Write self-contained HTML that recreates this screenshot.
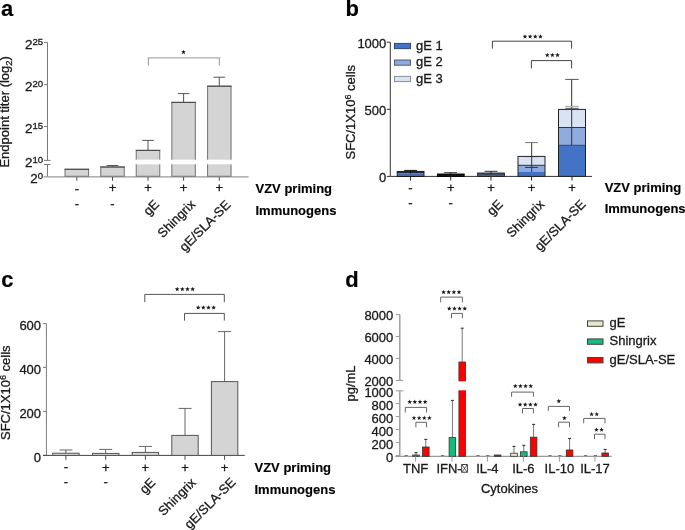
<!DOCTYPE html>
<html><head><meta charset="utf-8"><style>
html,body{margin:0;padding:0;background:#fff;}
body{width:685px;height:530px;overflow:hidden;}
svg{display:block;font-family:"Liberation Sans", sans-serif;-webkit-font-smoothing:antialiased;will-change:transform;}
text{stroke:#1a1a1a;stroke-width:0.3px;}
text[font-weight=bold]{stroke-width:0.15px;stroke:#000;}
</style></head><body>
<svg width="685" height="530" viewBox="0 0 685 530">
<rect width="685" height="530" fill="#fff"/>
<text x="1" y="16" font-size="22" text-anchor="start" font-weight="bold" fill="#000">a</text>
<line x1="47.5" y1="42.4" x2="47.5" y2="160.4" stroke="#7a7a7a" stroke-width="1"/>
<line x1="47.5" y1="164.5" x2="47.5" y2="176.8" stroke="#7a7a7a" stroke-width="1"/>
<line x1="44.0" y1="42.4" x2="47.5" y2="42.4" stroke="#7a7a7a" stroke-width="1"/>
<line x1="44.0" y1="84.7" x2="47.5" y2="84.7" stroke="#7a7a7a" stroke-width="1"/>
<line x1="44.0" y1="126.6" x2="47.5" y2="126.6" stroke="#7a7a7a" stroke-width="1"/>
<line x1="44.0" y1="160.4" x2="50.5" y2="160.4" stroke="#7a7a7a" stroke-width="1"/>
<line x1="44.0" y1="164.5" x2="50.5" y2="164.5" stroke="#7a7a7a" stroke-width="1"/>
<text x="43.1" y="48.6" font-size="13.5" text-anchor="end" fill="#1a1a1a">2<tspan font-size="9.6" dx="0" dy="-3.9">25</tspan></text>
<text x="43.1" y="90.9" font-size="13.5" text-anchor="end" fill="#1a1a1a">2<tspan font-size="9.6" dx="0" dy="-3.9">20</tspan></text>
<text x="43.1" y="132.79999999999998" font-size="13.5" text-anchor="end" fill="#1a1a1a">2<tspan font-size="9.6" dx="0" dy="-3.9">15</tspan></text>
<text x="43.1" y="166.6" font-size="13.5" text-anchor="end" fill="#1a1a1a">2<tspan font-size="9.6" dx="0" dy="-3.9">10</tspan></text>
<text x="43.1" y="183.0" font-size="13.5" text-anchor="end" fill="#1a1a1a">2<tspan font-size="9.6" dx="0" dy="-3.9">0</tspan></text>
<text transform="translate(9.2,111.8) rotate(-90)" font-size="13" text-anchor="middle" fill="#1a1a1a">Endpoint titer (log<tspan font-size="9.5" dy="3">2</tspan><tspan dy="-3">)</tspan></text>
<line x1="43.5" y1="176.8" x2="248.6" y2="176.8" stroke="#999" stroke-width="1.3"/>
<rect x="65.05" y="169.3" width="23.5" height="7.0" fill="#d4d4d4" stroke="#7c7c7c" stroke-width="1.1"/>
<line x1="64.55" y1="169.3" x2="89.05" y2="169.3" stroke="#4a4a4a" stroke-width="1.1"/>
<line x1="76.8" y1="177" x2="76.8" y2="180.8" stroke="#555" stroke-width="1"/>
<line x1="112.5" y1="165.5" x2="112.5" y2="167.0" stroke="#555" stroke-width="1"/>
<line x1="106.7" y1="165.5" x2="118.3" y2="165.5" stroke="#555" stroke-width="1"/>
<rect x="100.75" y="167.0" width="23.5" height="9.300000000000011" fill="#d4d4d4" stroke="#7c7c7c" stroke-width="1.1"/>
<line x1="100.25" y1="167.0" x2="124.75" y2="167.0" stroke="#4a4a4a" stroke-width="1.1"/>
<line x1="112.5" y1="177" x2="112.5" y2="180.8" stroke="#555" stroke-width="1"/>
<line x1="148" y1="140.4" x2="148" y2="150.4" stroke="#555" stroke-width="1"/>
<line x1="142.2" y1="140.4" x2="153.8" y2="140.4" stroke="#555" stroke-width="1"/>
<rect x="136.25" y="150.4" width="23.5" height="25.900000000000006" fill="#d4d4d4" stroke="#7c7c7c" stroke-width="1.1"/>
<line x1="135.75" y1="150.4" x2="160.25" y2="150.4" stroke="#4a4a4a" stroke-width="1.1"/>
<line x1="148" y1="177" x2="148" y2="180.8" stroke="#555" stroke-width="1"/>
<line x1="183.6" y1="93.6" x2="183.6" y2="102.4" stroke="#555" stroke-width="1"/>
<line x1="177.79999999999998" y1="93.6" x2="189.4" y2="93.6" stroke="#555" stroke-width="1"/>
<rect x="171.85" y="102.4" width="23.5" height="73.9" fill="#d4d4d4" stroke="#7c7c7c" stroke-width="1.1"/>
<line x1="171.35" y1="102.4" x2="195.85" y2="102.4" stroke="#4a4a4a" stroke-width="1.1"/>
<line x1="183.6" y1="177" x2="183.6" y2="180.8" stroke="#555" stroke-width="1"/>
<line x1="219.3" y1="77.2" x2="219.3" y2="86.2" stroke="#555" stroke-width="1"/>
<line x1="213.5" y1="77.2" x2="225.10000000000002" y2="77.2" stroke="#555" stroke-width="1"/>
<rect x="207.55" y="86.2" width="23.5" height="90.10000000000001" fill="#d4d4d4" stroke="#7c7c7c" stroke-width="1.1"/>
<line x1="207.05" y1="86.2" x2="231.55" y2="86.2" stroke="#4a4a4a" stroke-width="1.1"/>
<line x1="219.3" y1="177" x2="219.3" y2="180.8" stroke="#555" stroke-width="1"/>
<rect x="130" y="159.7" width="110" height="4.6" fill="#fff"/>
<polyline points="148.4,65.6 148.4,57.8 219.4,57.8 219.4,65.6" fill="none" stroke="#aaa" stroke-width="1.3"/>
<polygon points="183.50,49.75 184.12,51.35 185.83,51.44 184.50,52.52 184.94,54.18 183.50,53.25 182.06,54.18 182.50,52.52 181.17,51.44 182.88,51.35" fill="#1a1a1a"/>
<text x="76.8" y="193.1" font-size="13" text-anchor="middle" font-weight="normal" fill="#1a1a1a">-</text>
<text x="112.5" y="192.1" font-size="13" text-anchor="middle" font-weight="normal" fill="#1a1a1a">+</text>
<text x="148" y="192.1" font-size="13" text-anchor="middle" font-weight="normal" fill="#1a1a1a">+</text>
<text x="183.6" y="192.1" font-size="13" text-anchor="middle" font-weight="normal" fill="#1a1a1a">+</text>
<text x="219.3" y="192.1" font-size="13" text-anchor="middle" font-weight="normal" fill="#1a1a1a">+</text>
<text x="76.8" y="208.2" font-size="13" text-anchor="middle" font-weight="normal" fill="#1a1a1a">-</text>
<text x="112.5" y="208.2" font-size="13" text-anchor="middle" font-weight="normal" fill="#1a1a1a">-</text>
<text x="160.0" y="205.0" font-size="13" text-anchor="end" font-weight="normal" fill="#1a1a1a" transform="rotate(-45 160.0 205.0)">gE</text>
<text x="196.0" y="205.2" font-size="13" text-anchor="end" font-weight="normal" fill="#1a1a1a" transform="rotate(-45 196.0 205.2)">Shingrix</text>
<text x="231.3" y="205.7" font-size="13" text-anchor="end" font-weight="normal" fill="#1a1a1a" transform="rotate(-45 231.3 205.7)">gE/SLA-SE</text>
<text x="255.5" y="192.8" font-size="13" text-anchor="start" font-weight="bold" fill="#000">VZV priming</text>
<text x="255.5" y="214.8" font-size="13" text-anchor="start" font-weight="bold" fill="#000">Immunogens</text>
<text x="345.4" y="16.3" font-size="22" text-anchor="start" font-weight="bold" fill="#000">b</text>
<line x1="390.3" y1="42.2" x2="390.3" y2="176.4" stroke="#333" stroke-width="1"/>
<line x1="386.8" y1="42.2" x2="390.3" y2="42.2" stroke="#333" stroke-width="1"/>
<text x="386.3" y="48.0" font-size="13" text-anchor="end" font-weight="normal" fill="#1a1a1a">1000</text>
<line x1="386.8" y1="109.3" x2="390.3" y2="109.3" stroke="#333" stroke-width="1"/>
<text x="386.3" y="115.1" font-size="13" text-anchor="end" font-weight="normal" fill="#1a1a1a">500</text>
<line x1="386.8" y1="176.4" x2="390.3" y2="176.4" stroke="#333" stroke-width="1"/>
<text x="386.3" y="182.20000000000002" font-size="13" text-anchor="end" font-weight="normal" fill="#1a1a1a">0</text>
<text transform="translate(354.6,112.2) rotate(-90)" font-size="13" text-anchor="middle" fill="#1a1a1a">SFC/1X10<tspan font-size="9" dy="-4">6</tspan><tspan dy="4"> cells</tspan></text>
<line x1="390.3" y1="176.4" x2="592" y2="176.4" stroke="#333" stroke-width="1"/>
<line x1="410.5" y1="176.4" x2="410.5" y2="180.5" stroke="#333" stroke-width="1"/>
<line x1="450.7" y1="176.4" x2="450.7" y2="180.5" stroke="#333" stroke-width="1"/>
<line x1="491" y1="176.4" x2="491" y2="180.5" stroke="#333" stroke-width="1"/>
<line x1="531.5" y1="176.4" x2="531.5" y2="180.5" stroke="#333" stroke-width="1"/>
<rect x="518.0" y="156.4" width="27" height="8.900000000000006" fill="#dae3f3"/>
<rect x="518.0" y="165.3" width="27" height="6.399999999999977" fill="#8faadc"/>
<rect x="518.0" y="171.7" width="27" height="4.700000000000017" fill="#4472c4"/>
<line x1="518.0" y1="165.3" x2="545.0" y2="165.3" stroke="#222" stroke-width="0.9"/>
<rect x="518.0" y="156.4" width="27" height="20.0" fill="none" stroke="#222" stroke-width="1"/>
<line x1="572" y1="176.4" x2="572" y2="180.5" stroke="#333" stroke-width="1"/>
<rect x="558.5" y="109.4" width="27" height="18.099999999999994" fill="#dae3f3"/>
<rect x="558.5" y="127.5" width="27" height="17.80000000000001" fill="#8faadc"/>
<rect x="558.5" y="145.3" width="27" height="31.099999999999994" fill="#4472c4"/>
<line x1="558.5" y1="127.5" x2="585.5" y2="127.5" stroke="#222" stroke-width="0.9"/>
<line x1="558.5" y1="145.3" x2="585.5" y2="145.3" stroke="#222" stroke-width="0.7"/>
<rect x="558.5" y="109.4" width="27" height="67.0" fill="none" stroke="#222" stroke-width="1"/>
<rect x="397.2" y="171.4" width="26.8" height="2.0" fill="#1f2b45"/>
<rect x="397.2" y="173.4" width="26.8" height="1.6" fill="#4a68a8"/>
<rect x="397.2" y="175" width="26.8" height="1.4" fill="#4472c4"/>
<rect x="397.2" y="171.4" width="26.8" height="5" fill="none" stroke="#111" stroke-width="0.9"/>
<line x1="410.5" y1="170.4" x2="410.5" y2="173.4" stroke="#111" stroke-width="1"/>
<line x1="404.2" y1="170.4" x2="417" y2="170.4" stroke="#111" stroke-width="1"/>
<rect x="437.4" y="174" width="26.8" height="2.4" fill="#11151c" stroke="#000" stroke-width="0.9"/>
<line x1="444.2" y1="172.7" x2="457" y2="172.7" stroke="#333" stroke-width="1"/>
<line x1="450.7" y1="172.7" x2="450.7" y2="174" stroke="#222" stroke-width="1"/>
<rect x="477.6" y="173" width="26.8" height="3.4" fill="#4d5f87" stroke="#222" stroke-width="0.9"/>
<line x1="477.6" y1="174.2" x2="504.4" y2="174.2" stroke="#2a3550" stroke-width="0.7"/>
<line x1="484.5" y1="171.3" x2="497.5" y2="171.3" stroke="#333" stroke-width="1"/>
<line x1="491" y1="171.3" x2="491" y2="174" stroke="#222" stroke-width="1"/>
<line x1="531.7" y1="142.6" x2="531.7" y2="171.9" stroke="#333" stroke-width="1"/>
<line x1="525.1" y1="142.6" x2="537.9" y2="142.6" stroke="#777" stroke-width="1"/>
<line x1="525.1" y1="156.6" x2="537.9" y2="156.6" stroke="#333" stroke-width="1"/>
<line x1="525.1" y1="167.4" x2="537.9" y2="167.4" stroke="#333" stroke-width="1"/>
<line x1="571.7" y1="79.4" x2="571.7" y2="145.3" stroke="#333" stroke-width="1"/>
<line x1="565.2" y1="79.4" x2="578.6" y2="79.4" stroke="#555" stroke-width="1"/>
<line x1="565.3" y1="106.4" x2="578.7" y2="106.4" stroke="#b0b0b0" stroke-width="1.2"/>
<line x1="565.3" y1="108.3" x2="578.7" y2="108.3" stroke="#555" stroke-width="1"/>
<rect x="394.5" y="43.4" width="16" height="5.2" fill="#4472c4" stroke="#2d4a85" stroke-width="1"/>
<text x="416" y="49.7" font-size="13" text-anchor="start" font-weight="normal" fill="#1a1a1a">gE 1</text>
<rect x="394.5" y="60.0" width="16" height="5.2" fill="#8faadc" stroke="#4f5b75" stroke-width="1"/>
<text x="416" y="66.3" font-size="13" text-anchor="start" font-weight="normal" fill="#1a1a1a">gE 2</text>
<rect x="394.5" y="76.4" width="16" height="5.2" fill="#dae3f3" stroke="#8a8f99" stroke-width="1"/>
<text x="416" y="82.7" font-size="13" text-anchor="start" font-weight="normal" fill="#1a1a1a">gE 3</text>
<polyline points="492.4,48.6 492.4,41.2 571.6,41.2 571.6,48.6" fill="none" stroke="#444" stroke-width="1"/>
<polygon points="524.98,34.15 525.59,35.75 527.31,35.84 525.97,36.92 526.42,38.58 524.98,37.65 523.53,38.58 523.98,36.92 522.64,35.84 524.36,35.75" fill="#1a1a1a"/>
<polygon points="530.12,34.15 530.74,35.75 532.46,35.84 531.12,36.92 531.57,38.58 530.12,37.65 528.68,38.58 529.13,36.92 527.79,35.84 529.51,35.75" fill="#1a1a1a"/>
<polygon points="535.28,34.15 535.89,35.75 537.61,35.84 536.27,36.92 536.72,38.58 535.28,37.65 533.83,38.58 534.28,36.92 532.94,35.84 534.66,35.75" fill="#1a1a1a"/>
<polygon points="540.43,34.15 541.04,35.75 542.76,35.84 541.42,36.92 541.87,38.58 540.43,37.65 538.98,38.58 539.43,36.92 538.09,35.84 539.81,35.75" fill="#1a1a1a"/>
<polyline points="531.4,68.4 531.4,60.6 571.6,60.6 571.6,68.4" fill="none" stroke="#444" stroke-width="1"/>
<polygon points="547.25,52.65 547.87,54.25 549.58,54.34 548.25,55.42 548.69,57.08 547.25,56.15 545.81,57.08 546.25,55.42 544.92,54.34 546.63,54.25" fill="#1a1a1a"/>
<polygon points="552.40,52.65 553.02,54.25 554.73,54.34 553.40,55.42 553.84,57.08 552.40,56.15 550.96,57.08 551.40,55.42 550.07,54.34 551.78,54.25" fill="#1a1a1a"/>
<polygon points="557.55,52.65 558.17,54.25 559.88,54.34 558.55,55.42 558.99,57.08 557.55,56.15 556.11,57.08 556.55,55.42 555.22,54.34 556.93,54.25" fill="#1a1a1a"/>
<text x="410.5" y="191.8" font-size="13" text-anchor="middle" font-weight="normal" fill="#1a1a1a">-</text>
<text x="450.7" y="192.1" font-size="13" text-anchor="middle" font-weight="normal" fill="#1a1a1a">+</text>
<text x="491" y="192.1" font-size="13" text-anchor="middle" font-weight="normal" fill="#1a1a1a">+</text>
<text x="531.5" y="192.1" font-size="13" text-anchor="middle" font-weight="normal" fill="#1a1a1a">+</text>
<text x="572" y="192.1" font-size="13" text-anchor="middle" font-weight="normal" fill="#1a1a1a">+</text>
<text x="410.5" y="206.7" font-size="13" text-anchor="middle" font-weight="normal" fill="#1a1a1a">-</text>
<text x="450.7" y="206.7" font-size="13" text-anchor="middle" font-weight="normal" fill="#1a1a1a">-</text>
<text x="503.6" y="205.0" font-size="13" text-anchor="end" font-weight="normal" fill="#1a1a1a" transform="rotate(-45 503.6 205.0)">gE</text>
<text x="545.0" y="205.1" font-size="13" text-anchor="end" font-weight="normal" fill="#1a1a1a" transform="rotate(-45 545.0 205.1)">Shingrix</text>
<text x="586.4" y="205.1" font-size="13" text-anchor="end" font-weight="normal" fill="#1a1a1a" transform="rotate(-45 586.4 205.1)">gE/SLA-SE</text>
<text x="604.7" y="192.0" font-size="13" text-anchor="start" font-weight="bold" fill="#000">VZV priming</text>
<text x="604.7" y="213.3" font-size="13" text-anchor="start" font-weight="bold" fill="#000">Immunogens</text>
<text x="1.2" y="287.4" font-size="22" text-anchor="start" font-weight="bold" fill="#000">c</text>
<line x1="46.4" y1="323.6" x2="46.4" y2="455.4" stroke="#7a7a7a" stroke-width="1"/>
<line x1="42.9" y1="323.6" x2="46.4" y2="323.6" stroke="#7a7a7a" stroke-width="1"/>
<text x="41.1" y="330.20000000000005" font-size="13" text-anchor="end" font-weight="normal" fill="#1a1a1a">600</text>
<line x1="42.9" y1="367.4" x2="46.4" y2="367.4" stroke="#7a7a7a" stroke-width="1"/>
<text x="41.1" y="374.0" font-size="13" text-anchor="end" font-weight="normal" fill="#1a1a1a">400</text>
<line x1="42.9" y1="411.4" x2="46.4" y2="411.4" stroke="#7a7a7a" stroke-width="1"/>
<text x="41.1" y="418.0" font-size="13" text-anchor="end" font-weight="normal" fill="#1a1a1a">200</text>
<line x1="42.9" y1="455.4" x2="46.4" y2="455.4" stroke="#7a7a7a" stroke-width="1"/>
<text x="41.1" y="462.0" font-size="13" text-anchor="end" font-weight="normal" fill="#1a1a1a">0</text>
<text transform="translate(10.1,392.7) rotate(-90)" font-size="13" text-anchor="middle" fill="#1a1a1a">SFC/1X10<tspan font-size="9" dy="-4">6</tspan><tspan dy="4"> cells</tspan></text>
<line x1="43" y1="455.4" x2="244.8" y2="455.4" stroke="#444" stroke-width="1"/>
<line x1="65.9" y1="450" x2="65.9" y2="453.2" stroke="#666" stroke-width="1"/>
<line x1="59.400000000000006" y1="450" x2="72.4" y2="450" stroke="#666" stroke-width="1"/>
<rect x="52.7" y="453.2" width="26.4" height="2.1999999999999886" fill="#d4d4d4" stroke="#555" stroke-width="1"/>
<line x1="65.9" y1="455.4" x2="65.9" y2="459.8" stroke="#4a4a4a" stroke-width="1"/>
<line x1="105.7" y1="449.4" x2="105.7" y2="453.4" stroke="#666" stroke-width="1"/>
<line x1="99.2" y1="449.4" x2="112.2" y2="449.4" stroke="#666" stroke-width="1"/>
<rect x="92.5" y="453.4" width="26.4" height="2.0" fill="#d4d4d4" stroke="#555" stroke-width="1"/>
<line x1="105.7" y1="455.4" x2="105.7" y2="459.8" stroke="#4a4a4a" stroke-width="1"/>
<line x1="145.4" y1="446.4" x2="145.4" y2="452.4" stroke="#666" stroke-width="1"/>
<line x1="138.9" y1="446.4" x2="151.9" y2="446.4" stroke="#666" stroke-width="1"/>
<rect x="132.20000000000002" y="452.4" width="26.4" height="3.0" fill="#d4d4d4" stroke="#555" stroke-width="1"/>
<line x1="145.4" y1="455.4" x2="145.4" y2="459.8" stroke="#4a4a4a" stroke-width="1"/>
<line x1="185" y1="408.4" x2="185" y2="435.4" stroke="#666" stroke-width="1"/>
<line x1="178.5" y1="408.4" x2="191.5" y2="408.4" stroke="#666" stroke-width="1"/>
<rect x="171.8" y="435.4" width="26.4" height="20.0" fill="#d4d4d4" stroke="#555" stroke-width="1"/>
<line x1="185" y1="455.4" x2="185" y2="459.8" stroke="#4a4a4a" stroke-width="1"/>
<line x1="224.6" y1="331.6" x2="224.6" y2="381.6" stroke="#666" stroke-width="1"/>
<line x1="218.1" y1="331.6" x2="231.1" y2="331.6" stroke="#666" stroke-width="1"/>
<rect x="211.4" y="381.6" width="26.4" height="73.79999999999995" fill="#d4d4d4" stroke="#555" stroke-width="1"/>
<line x1="224.6" y1="455.4" x2="224.6" y2="459.8" stroke="#4a4a4a" stroke-width="1"/>
<polyline points="144.8,302.2 144.8,294.4 224.3,294.4 224.3,302.2" fill="none" stroke="#555" stroke-width="1"/>
<polygon points="177.18,286.75 177.79,288.35 179.51,288.44 178.17,289.52 178.62,291.18 177.18,290.25 175.73,291.18 176.18,289.52 174.84,288.44 176.56,288.35" fill="#1a1a1a"/>
<polygon points="182.33,286.75 182.94,288.35 184.66,288.44 183.32,289.52 183.77,291.18 182.33,290.25 180.88,291.18 181.33,289.52 179.99,288.44 181.71,288.35" fill="#1a1a1a"/>
<polygon points="187.47,286.75 188.09,288.35 189.81,288.44 188.47,289.52 188.92,291.18 187.47,290.25 186.03,291.18 186.48,289.52 185.14,288.44 186.86,288.35" fill="#1a1a1a"/>
<polygon points="192.62,286.75 193.24,288.35 194.96,288.44 193.62,289.52 194.07,291.18 192.62,290.25 191.18,291.18 191.63,289.52 190.29,288.44 192.01,288.35" fill="#1a1a1a"/>
<polyline points="184.5,320.6 184.5,313.4 224.3,313.4 224.3,320.6" fill="none" stroke="#555" stroke-width="1"/>
<polygon points="198.18,305.15 198.79,306.75 200.51,306.84 199.17,307.92 199.62,309.58 198.18,308.65 196.73,309.58 197.18,307.92 195.84,306.84 197.56,306.75" fill="#1a1a1a"/>
<polygon points="203.33,305.15 203.94,306.75 205.66,306.84 204.32,307.92 204.77,309.58 203.33,308.65 201.88,309.58 202.33,307.92 200.99,306.84 202.71,306.75" fill="#1a1a1a"/>
<polygon points="208.47,305.15 209.09,306.75 210.81,306.84 209.47,307.92 209.92,309.58 208.47,308.65 207.03,309.58 207.48,307.92 206.14,306.84 207.86,306.75" fill="#1a1a1a"/>
<polygon points="213.62,305.15 214.24,306.75 215.96,306.84 214.62,307.92 215.07,309.58 213.62,308.65 212.18,309.58 212.63,307.92 211.29,306.84 213.01,306.75" fill="#1a1a1a"/>
<text x="65.9" y="471.0" font-size="13" text-anchor="middle" font-weight="normal" fill="#1a1a1a">-</text>
<text x="105.7" y="472.0" font-size="13" text-anchor="middle" font-weight="normal" fill="#1a1a1a">+</text>
<text x="145.4" y="472.0" font-size="13" text-anchor="middle" font-weight="normal" fill="#1a1a1a">+</text>
<text x="185" y="472.0" font-size="13" text-anchor="middle" font-weight="normal" fill="#1a1a1a">+</text>
<text x="224.6" y="472.0" font-size="13" text-anchor="middle" font-weight="normal" fill="#1a1a1a">+</text>
<text x="65.9" y="486.1" font-size="13" text-anchor="middle" font-weight="normal" fill="#1a1a1a">-</text>
<text x="105.7" y="486.1" font-size="13" text-anchor="middle" font-weight="normal" fill="#1a1a1a">-</text>
<text x="156.20000000000002" y="483.3" font-size="13" text-anchor="end" font-weight="normal" fill="#1a1a1a" transform="rotate(-45 156.20000000000002 483.3)">gE</text>
<text x="196.7" y="483.3" font-size="13" text-anchor="end" font-weight="normal" fill="#1a1a1a" transform="rotate(-45 196.7 483.3)">Shingrix</text>
<text x="236.29999999999998" y="483.1" font-size="13" text-anchor="end" font-weight="normal" fill="#1a1a1a" transform="rotate(-45 236.29999999999998 483.1)">gE/SLA-SE</text>
<text x="254.5" y="471.5" font-size="13" text-anchor="start" font-weight="bold" fill="#000">VZV priming</text>
<text x="254.5" y="493.5" font-size="13" text-anchor="start" font-weight="bold" fill="#000">Immunogens</text>
<text x="345.3" y="287" font-size="22" text-anchor="start" font-weight="bold" fill="#000">d</text>
<line x1="399.8" y1="314.4" x2="399.8" y2="380.4" stroke="#9a9a9a" stroke-width="1.4"/>
<line x1="399.8" y1="390.8" x2="399.8" y2="456.3" stroke="#9a9a9a" stroke-width="1.4"/>
<line x1="395.8" y1="314.4" x2="399.8" y2="314.4" stroke="#9a9a9a" stroke-width="1"/>
<text x="393.3" y="320.2" font-size="13" text-anchor="end" font-weight="normal" fill="#1a1a1a">8000</text>
<line x1="395.8" y1="336.6" x2="399.8" y2="336.6" stroke="#9a9a9a" stroke-width="1"/>
<text x="393.3" y="342.40000000000003" font-size="13" text-anchor="end" font-weight="normal" fill="#1a1a1a">6000</text>
<line x1="395.8" y1="358.4" x2="399.8" y2="358.4" stroke="#9a9a9a" stroke-width="1"/>
<text x="393.3" y="364.2" font-size="13" text-anchor="end" font-weight="normal" fill="#1a1a1a">4000</text>
<line x1="395.8" y1="380.4" x2="399.8" y2="380.4" stroke="#9a9a9a" stroke-width="1"/>
<text x="393.3" y="386.2" font-size="13" text-anchor="end" font-weight="normal" fill="#1a1a1a">2000</text>
<line x1="399.8" y1="380.4" x2="403.5" y2="380.4" stroke="#9a9a9a" stroke-width="1"/>
<line x1="399.8" y1="390.8" x2="403.5" y2="390.8" stroke="#9a9a9a" stroke-width="1"/>
<line x1="395.8" y1="390.8" x2="399.8" y2="390.8" stroke="#9a9a9a" stroke-width="1"/>
<text x="393.3" y="396.90000000000003" font-size="13" text-anchor="end" font-weight="normal" fill="#1a1a1a">1000</text>
<line x1="395.8" y1="403.6" x2="399.8" y2="403.6" stroke="#9a9a9a" stroke-width="1"/>
<text x="393.3" y="409.70000000000005" font-size="13" text-anchor="end" font-weight="normal" fill="#1a1a1a">800</text>
<line x1="395.8" y1="416.6" x2="399.8" y2="416.6" stroke="#9a9a9a" stroke-width="1"/>
<text x="393.3" y="422.70000000000005" font-size="13" text-anchor="end" font-weight="normal" fill="#1a1a1a">600</text>
<line x1="395.8" y1="429.6" x2="399.8" y2="429.6" stroke="#9a9a9a" stroke-width="1"/>
<text x="393.3" y="435.70000000000005" font-size="13" text-anchor="end" font-weight="normal" fill="#1a1a1a">400</text>
<line x1="395.8" y1="442.6" x2="399.8" y2="442.6" stroke="#9a9a9a" stroke-width="1"/>
<text x="393.3" y="448.70000000000005" font-size="13" text-anchor="end" font-weight="normal" fill="#1a1a1a">200</text>
<line x1="395.8" y1="455.6" x2="399.8" y2="455.6" stroke="#9a9a9a" stroke-width="1"/>
<text x="393.3" y="461.70000000000005" font-size="13" text-anchor="end" font-weight="normal" fill="#1a1a1a">0</text>
<text transform="translate(355,383.5) rotate(-90)" font-size="13" text-anchor="middle" fill="#1a1a1a">pg/mL</text>
<line x1="395.3" y1="456.3" x2="611.6" y2="456.3" stroke="#9a9a9a" stroke-width="1.3"/>
<line x1="404.6" y1="455.5" x2="407.80000000000007" y2="455.5" stroke="#777" stroke-width="1"/>
<line x1="416.0" y1="452.6" x2="416.0" y2="455" stroke="#777" stroke-width="1"/>
<line x1="414.5" y1="452.6" x2="417.5" y2="452.6" stroke="#333" stroke-width="1.1"/>
<rect x="412.7" y="455" width="6.6" height="1.3000000000000114" fill="#19b97b" stroke="#333" stroke-width="0.8"/>
<line x1="425.8" y1="439.4" x2="425.8" y2="447" stroke="#777" stroke-width="1"/>
<line x1="424.3" y1="439.4" x2="427.3" y2="439.4" stroke="#333" stroke-width="1.1"/>
<rect x="422.5" y="447" width="6.6" height="9.300000000000011" fill="#ff0000" stroke="#333" stroke-width="0.8"/>
<line x1="415.6" y1="456.3" x2="415.6" y2="461.6" stroke="#9a9a9a" stroke-width="1"/>
<line x1="441.0" y1="455.5" x2="444.20000000000005" y2="455.5" stroke="#777" stroke-width="1"/>
<line x1="452.4" y1="400.4" x2="452.4" y2="437.6" stroke="#777" stroke-width="1"/>
<line x1="450.9" y1="400.4" x2="453.9" y2="400.4" stroke="#333" stroke-width="1.1"/>
<rect x="449.09999999999997" y="437.6" width="6.6" height="18.69999999999999" fill="#19b97b" stroke="#333" stroke-width="0.8"/>
<line x1="462.2" y1="328.2" x2="462.2" y2="362" stroke="#777" stroke-width="1"/>
<line x1="460.7" y1="328.2" x2="463.7" y2="328.2" stroke="#333" stroke-width="1.1"/>
<rect x="458.9" y="362" width="6.6" height="94.30000000000001" fill="#ff0000" stroke="#333" stroke-width="0.8"/>
<line x1="452" y1="456.3" x2="452" y2="461.6" stroke="#9a9a9a" stroke-width="1"/>
<line x1="476.4" y1="455.5" x2="479.6" y2="455.5" stroke="#777" stroke-width="1"/>
<line x1="486.19999999999993" y1="455.5" x2="489.4" y2="455.5" stroke="#777" stroke-width="1"/>
<rect x="494.29999999999995" y="455" width="6.6" height="1.3000000000000114" fill="#ff0000" stroke="#333" stroke-width="0.8"/>
<line x1="487.4" y1="456.3" x2="487.4" y2="461.6" stroke="#9a9a9a" stroke-width="1"/>
<line x1="514.0" y1="446.4" x2="514.0" y2="453.2" stroke="#777" stroke-width="1"/>
<line x1="512.5" y1="446.4" x2="515.5" y2="446.4" stroke="#333" stroke-width="1.1"/>
<rect x="510.7" y="453.2" width="6.6" height="3.1000000000000227" fill="#ece6c8" stroke="#333" stroke-width="0.8"/>
<line x1="523.8" y1="445.4" x2="523.8" y2="451.8" stroke="#777" stroke-width="1"/>
<line x1="522.3" y1="445.4" x2="525.3" y2="445.4" stroke="#333" stroke-width="1.1"/>
<rect x="520.5" y="451.8" width="6.6" height="4.5" fill="#19b97b" stroke="#333" stroke-width="0.8"/>
<line x1="533.6" y1="424.4" x2="533.6" y2="437.2" stroke="#777" stroke-width="1"/>
<line x1="532.1" y1="424.4" x2="535.1" y2="424.4" stroke="#333" stroke-width="1.1"/>
<rect x="530.3000000000001" y="437.2" width="6.6" height="19.100000000000023" fill="#ff0000" stroke="#333" stroke-width="0.8"/>
<line x1="523.4" y1="456.3" x2="523.4" y2="461.6" stroke="#9a9a9a" stroke-width="1"/>
<line x1="548.4" y1="455.5" x2="551.6" y2="455.5" stroke="#777" stroke-width="1"/>
<line x1="558.1999999999999" y1="455.5" x2="561.4" y2="455.5" stroke="#777" stroke-width="1"/>
<line x1="569.6" y1="438.5" x2="569.6" y2="450" stroke="#777" stroke-width="1"/>
<line x1="568.1" y1="438.5" x2="571.1" y2="438.5" stroke="#333" stroke-width="1.1"/>
<rect x="566.3000000000001" y="450" width="6.6" height="6.300000000000011" fill="#ff0000" stroke="#333" stroke-width="0.8"/>
<line x1="559.4" y1="456.3" x2="559.4" y2="461.6" stroke="#9a9a9a" stroke-width="1"/>
<line x1="584.0" y1="455.5" x2="587.2" y2="455.5" stroke="#777" stroke-width="1"/>
<line x1="593.8" y1="455.5" x2="597.0" y2="455.5" stroke="#777" stroke-width="1"/>
<line x1="605.2" y1="449.4" x2="605.2" y2="453" stroke="#777" stroke-width="1"/>
<line x1="603.7" y1="449.4" x2="606.7" y2="449.4" stroke="#333" stroke-width="1.1"/>
<rect x="601.9000000000001" y="453" width="6.6" height="3.3000000000000114" fill="#ff0000" stroke="#333" stroke-width="0.8"/>
<line x1="595" y1="456.3" x2="595" y2="461.6" stroke="#9a9a9a" stroke-width="1"/>
<rect x="457" y="381.3" width="10" height="9.0" fill="#fff"/>
<text x="415.6" y="473.4" font-size="13" text-anchor="middle" font-weight="normal" fill="#1a1a1a">TNF</text>
<text x="436.4" y="473.4" font-size="13" text-anchor="start" font-weight="normal" fill="#1a1a1a">IFN-</text>
<text x="487.4" y="473.4" font-size="13" text-anchor="middle" font-weight="normal" fill="#1a1a1a">IL-4</text>
<text x="523.4" y="473.4" font-size="13" text-anchor="middle" font-weight="normal" fill="#1a1a1a">IL-6</text>
<text x="559.4" y="473.4" font-size="13" text-anchor="middle" font-weight="normal" fill="#1a1a1a">IL-10</text>
<text x="595" y="473.4" font-size="13" text-anchor="middle" font-weight="normal" fill="#1a1a1a">IL-17</text>
<rect x="461.7" y="464.6" width="5.6" height="7.6" fill="none" stroke="#222" stroke-width="0.9"/>
<path d="M462 465 L467 472 M467 465 L462 472" stroke="#222" stroke-width="0.7"/>
<text x="509.5" y="492.5" font-size="13" text-anchor="middle" font-weight="normal" fill="#1a1a1a">Cytokines</text>
<polyline points="405.3,412.5 405.3,407.4 426.6,407.4 426.6,412.5" fill="none" stroke="#666" stroke-width="1"/>
<polygon points="409.67,399.45 410.29,401.05 412.01,401.14 410.67,402.22 411.12,403.88 409.67,402.95 408.23,403.88 408.68,402.22 407.34,401.14 409.06,401.05" fill="#1a1a1a"/>
<polygon points="414.82,399.45 415.44,401.05 417.16,401.14 415.82,402.22 416.27,403.88 414.82,402.95 413.38,403.88 413.83,402.22 412.49,401.14 414.21,401.05" fill="#1a1a1a"/>
<polygon points="419.97,399.45 420.59,401.05 422.31,401.14 420.97,402.22 421.42,403.88 419.97,402.95 418.53,403.88 418.98,402.22 417.64,401.14 419.36,401.05" fill="#1a1a1a"/>
<polygon points="425.12,399.45 425.74,401.05 427.46,401.14 426.12,402.22 426.57,403.88 425.12,402.95 423.68,403.88 424.13,402.22 422.79,401.14 424.51,401.05" fill="#1a1a1a"/>
<polyline points="415.9,427.4 415.9,422.3 426.6,422.3 426.6,427.4" fill="none" stroke="#666" stroke-width="1"/>
<polygon points="413.97,415.55 414.59,417.15 416.31,417.24 414.97,418.32 415.42,419.98 413.97,419.05 412.53,419.98 412.98,418.32 411.64,417.24 413.36,417.15" fill="#1a1a1a"/>
<polygon points="419.12,415.55 419.74,417.15 421.46,417.24 420.12,418.32 420.57,419.98 419.12,419.05 417.68,419.98 418.13,418.32 416.79,417.24 418.51,417.15" fill="#1a1a1a"/>
<polygon points="424.27,415.55 424.89,417.15 426.61,417.24 425.27,418.32 425.72,419.98 424.27,419.05 422.83,419.98 423.28,418.32 421.94,417.24 423.66,417.15" fill="#1a1a1a"/>
<polygon points="429.43,415.55 430.04,417.15 431.76,417.24 430.42,418.32 430.87,419.98 429.43,419.05 427.98,419.98 428.43,418.32 427.09,417.24 428.81,417.15" fill="#1a1a1a"/>
<polyline points="440.7,302.3 440.7,297.1 462.4,297.1 462.4,302.3" fill="none" stroke="#666" stroke-width="1"/>
<polygon points="443.57,289.75 444.19,291.35 445.91,291.44 444.57,292.52 445.02,294.18 443.57,293.25 442.13,294.18 442.58,292.52 441.24,291.44 442.96,291.35" fill="#1a1a1a"/>
<polygon points="448.73,289.75 449.34,291.35 451.06,291.44 449.72,292.52 450.17,294.18 448.73,293.25 447.28,294.18 447.73,292.52 446.39,291.44 448.11,291.35" fill="#1a1a1a"/>
<polygon points="453.88,289.75 454.49,291.35 456.21,291.44 454.87,292.52 455.32,294.18 453.88,293.25 452.43,294.18 452.88,292.52 451.54,291.44 453.26,291.35" fill="#1a1a1a"/>
<polygon points="459.03,289.75 459.64,291.35 461.36,291.44 460.02,292.52 460.47,294.18 459.03,293.25 457.58,294.18 458.03,292.52 456.69,291.44 458.41,291.35" fill="#1a1a1a"/>
<polyline points="451.5,318.3 451.5,313.4 462.4,313.4 462.4,318.3" fill="none" stroke="#666" stroke-width="1"/>
<polygon points="449.27,306.15 449.89,307.75 451.61,307.84 450.27,308.92 450.72,310.58 449.27,309.65 447.83,310.58 448.28,308.92 446.94,307.84 448.66,307.75" fill="#1a1a1a"/>
<polygon points="454.43,306.15 455.04,307.75 456.76,307.84 455.42,308.92 455.87,310.58 454.43,309.65 452.98,310.58 453.43,308.92 452.09,307.84 453.81,307.75" fill="#1a1a1a"/>
<polygon points="459.57,306.15 460.19,307.75 461.91,307.84 460.57,308.92 461.02,310.58 459.57,309.65 458.13,310.58 458.58,308.92 457.24,307.84 458.96,307.75" fill="#1a1a1a"/>
<polygon points="464.73,306.15 465.34,307.75 467.06,307.84 465.72,308.92 466.17,310.58 464.73,309.65 463.28,310.58 463.73,308.92 462.39,307.84 464.11,307.75" fill="#1a1a1a"/>
<polyline points="511.6,396.8 511.6,392.1 533.4,392.1 533.4,396.8" fill="none" stroke="#666" stroke-width="1"/>
<polygon points="515.27,383.65 515.89,385.25 517.61,385.34 516.27,386.42 516.72,388.08 515.27,387.15 513.83,388.08 514.28,386.42 512.94,385.34 514.66,385.25" fill="#1a1a1a"/>
<polygon points="520.42,383.65 521.04,385.25 522.76,385.34 521.42,386.42 521.87,388.08 520.42,387.15 518.98,388.08 519.43,386.42 518.09,385.34 519.81,385.25" fill="#1a1a1a"/>
<polygon points="525.58,383.65 526.19,385.25 527.91,385.34 526.57,386.42 527.02,388.08 525.58,387.15 524.13,388.08 524.58,386.42 523.24,385.34 524.96,385.25" fill="#1a1a1a"/>
<polygon points="530.73,383.65 531.34,385.25 533.06,385.34 531.72,386.42 532.17,388.08 530.73,387.15 529.28,388.08 529.73,386.42 528.39,385.34 530.11,385.25" fill="#1a1a1a"/>
<polyline points="522.5,413.4 522.5,408.5 533.4,408.5 533.4,413.4" fill="none" stroke="#666" stroke-width="1"/>
<polygon points="520.07,402.15 520.69,403.75 522.41,403.84 521.07,404.92 521.52,406.58 520.07,405.65 518.63,406.58 519.08,404.92 517.74,403.84 519.46,403.75" fill="#1a1a1a"/>
<polygon points="525.22,402.15 525.84,403.75 527.56,403.84 526.22,404.92 526.67,406.58 525.22,405.65 523.78,406.58 524.23,404.92 522.89,403.84 524.61,403.75" fill="#1a1a1a"/>
<polygon points="530.38,402.15 530.99,403.75 532.71,403.84 531.37,404.92 531.82,406.58 530.38,405.65 528.93,406.58 529.38,404.92 528.04,403.84 529.76,403.75" fill="#1a1a1a"/>
<polygon points="535.52,402.15 536.14,403.75 537.86,403.84 536.52,404.92 536.97,406.58 535.52,405.65 534.08,406.58 534.53,404.92 533.19,403.84 534.91,403.75" fill="#1a1a1a"/>
<polyline points="548.3,411.1 548.3,406.4 569.5,406.4 569.5,411.1" fill="none" stroke="#666" stroke-width="1"/>
<polygon points="558.80,398.75 559.42,400.35 561.13,400.44 559.80,401.52 560.24,403.18 558.80,402.25 557.36,403.18 557.80,401.52 556.47,400.44 558.18,400.35" fill="#1a1a1a"/>
<polyline points="558.6,427.3 558.6,422.2 569.5,422.2 569.5,427.3" fill="none" stroke="#666" stroke-width="1"/>
<polygon points="564.40,415.65 565.02,417.25 566.73,417.34 565.40,418.42 565.84,420.08 564.40,419.15 562.96,420.08 563.40,418.42 562.07,417.34 563.78,417.25" fill="#1a1a1a"/>
<polyline points="583.7,423.3 583.7,418.4 605.0,418.4 605.0,423.3" fill="none" stroke="#666" stroke-width="1"/>
<polygon points="591.62,411.85 592.24,413.45 593.96,413.54 592.62,414.62 593.07,416.28 591.62,415.35 590.18,416.28 590.63,414.62 589.29,413.54 591.01,413.45" fill="#1a1a1a"/>
<polygon points="596.78,411.85 597.39,413.45 599.11,413.54 597.77,414.62 598.22,416.28 596.78,415.35 595.33,416.28 595.78,414.62 594.44,413.54 596.16,413.45" fill="#1a1a1a"/>
<polyline points="594.5,439.1 594.5,434.2 605.0,434.2 605.0,439.1" fill="none" stroke="#666" stroke-width="1"/>
<polygon points="596.42,427.35 597.04,428.95 598.76,429.04 597.42,430.12 597.87,431.78 596.42,430.85 594.98,431.78 595.43,430.12 594.09,429.04 595.81,428.95" fill="#1a1a1a"/>
<polygon points="601.58,427.35 602.19,428.95 603.91,429.04 602.57,430.12 603.02,431.78 601.58,430.85 600.13,431.78 600.58,430.12 599.24,429.04 600.96,428.95" fill="#1a1a1a"/>
<rect x="587.5" y="320.9" width="15.5" height="5.4" fill="#ece6c8" stroke="#444" stroke-width="1"/>
<text x="609.5" y="327.2" font-size="13" text-anchor="start" font-weight="normal" fill="#1a1a1a">gE</text>
<rect x="587.5" y="338.9" width="15.5" height="5.4" fill="#19b97b" stroke="#444" stroke-width="1"/>
<text x="609.5" y="345.2" font-size="13" text-anchor="start" font-weight="normal" fill="#1a1a1a">Shingrix</text>
<rect x="587.5" y="357.5" width="15.5" height="5.4" fill="#ff0000" stroke="#444" stroke-width="1"/>
<text x="609.5" y="363.8" font-size="13" text-anchor="start" font-weight="normal" fill="#1a1a1a">gE/SLA-SE</text>
</svg></body></html>
